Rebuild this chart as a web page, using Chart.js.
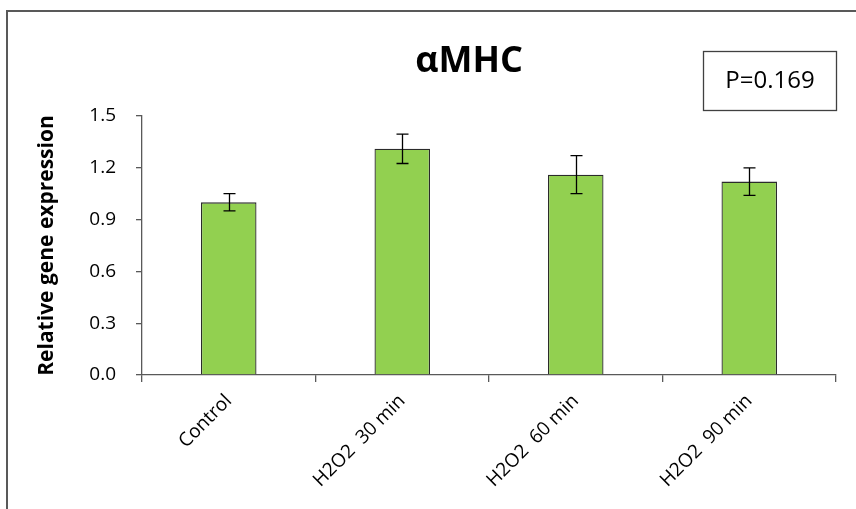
<!DOCTYPE html>
<html>
<head>
<meta charset="utf-8">
<script src="https://cdn.jsdelivr.net/npm/chart.js@4"></script>
<style>
  html, body { margin: 0; padding: 0; background: #fff; }
  #wrap { width: 856px; height: 509px; position: relative; }
</style>
</head>
<body>
<div id="wrap"><canvas id="chart" width="856" height="509"></canvas></div>
<script>
const categories = ['Control', 'H2O2  30 min', 'H2O2  60 min', 'H2O2  90 min'];
const values = [1.0, 1.31, 1.16, 1.12];
const errors = [0.05, 0.085, 0.11, 0.08];
const yTicks = [0.0, 0.3, 0.6, 0.9, 1.2, 1.5];

const FONT = "'Open Sans', 'Liberation Sans', sans-serif";

// frame, title, P box and error bars
const extras = {
    id: 'extras',
    beforeDraw(chart) {
        const c = chart.ctx;
        c.save();
        c.fillStyle = '#fff';
        c.fillRect(0, 0, chart.width, chart.height);
        c.strokeStyle = '#595959';
        c.lineWidth = 2;
        c.strokeRect(7, 11, 900, 600);
        c.restore();
    },
    afterDatasetsDraw(chart) {
        const c = chart.ctx;
        const meta = chart.getDatasetMeta(0);
        const y = chart.scales.y;
        c.save();
        c.strokeStyle = '#000';
        c.lineWidth = 1.3;
        meta.data.forEach((bar, i) => {
            const x = Math.round(bar.x) + 0.5;
            const top = y.getPixelForValue(values[i] + errors[i]);
            const bot = y.getPixelForValue(values[i] - errors[i]);
            c.beginPath();
            c.moveTo(x, top); c.lineTo(x, bot);
            c.moveTo(x - 6, top); c.lineTo(x + 6, top);
            c.moveTo(x - 6, bot); c.lineTo(x + 6, bot);
            c.stroke();
        });

        c.fillStyle = '#000';
        c.textAlign = 'center';
        c.textBaseline = 'middle';
        c.font = 'bold 36px ' + FONT;
        c.fillText('αMHC', 469, 62);

        c.strokeStyle = '#404040';
        c.lineWidth = 1.3;
        c.strokeRect(703.5, 51.5, 133, 59);
        c.font = '24px ' + FONT;
        c.fillText('P=0.169', 770, 81);
        c.restore();
    }
};

new Chart(document.getElementById('chart'), {
    type: 'bar',
    data: {
        labels: categories,
        datasets: [{
            data: values,
            backgroundColor: '#92d050',
            borderColor: '#2b2b2b',
            borderWidth: 1.3,
            barPercentage: 0.64,
            categoryPercentage: 0.5
        }]
    },
    options: {
        responsive: false,
        animation: false,
        layout: { padding: { top: 116, right: 20, left: 34, bottom: 0 } },
        plugins: { legend: { display: false }, tooltip: { enabled: false } },
        scales: {
            x: {
                offset: true,
                grid: { display: true, drawOnChartArea: false, offset: true, tickLength: 7, color: '#595959', lineWidth: 1.3 },
                border: { display: true, color: '#595959', width: 1.3 },
                ticks: {
                    minRotation: 45, maxRotation: 45, color: '#000', padding: 8,
                    font: { family: FONT, size: 19 }
                },
                afterFit(scale) { scale.height = 134; }
            },
            y: {
                min: 0, max: 1.5,
                afterBuildTicks(scale) { scale.ticks = yTicks.map(v => ({ value: v })); },
                grid: { display: true, drawOnChartArea: false, tickLength: 6, color: '#595959', lineWidth: 1.3 },
                border: { display: true, color: '#595959', width: 1.3 },
                ticks: {
                    color: '#000', padding: 20,
                    font: { family: FONT, size: 19 },
                    callback: v => v.toFixed(1)
                },
                title: {
                    display: true, text: 'Relative gene expression', color: '#000',
                    font: { family: FONT, size: 21, weight: 'bold' }, padding: { top: 0, bottom: 10 }
                },
                afterFit(scale) { scale.width = 108; }
            }
        }
    },
    plugins: [extras]
});
</script>
</body>
</html>
